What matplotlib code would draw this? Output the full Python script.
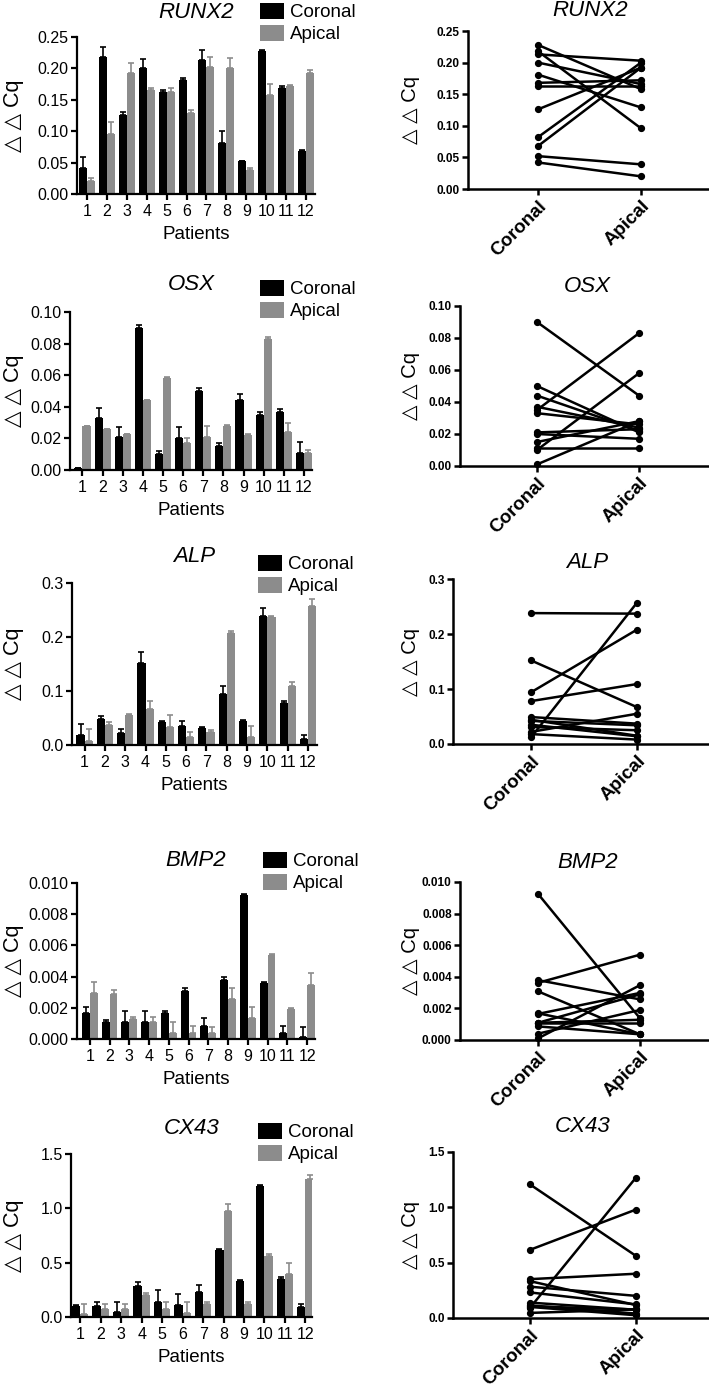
import matplotlib
matplotlib.use("Agg")
import matplotlib.pyplot as plt
import numpy as np
from matplotlib.ticker import FormatStrFormatter

plt.rcParams['font.family'] = ['Liberation Sans', 'DejaVu Sans']

# ---------------- data ----------------
genes = ["RUNX2", "OSX", "ALP", "BMP2", "CX43"]
patients = list(range(1, 13))
groups = ["Coronal", "Apical"]

runx2_cor = [0.042, 0.218, 0.126, 0.200, 0.163, 0.181, 0.213, 0.082, 0.052, 0.228, 0.168, 0.068]
runx2_cor_err = [0.017, 0.016, 0.005, 0.015, 0.003, 0.003, 0.017, 0.018, 0.001, 0.002, 0.004, 0.002]
runx2_api = [0.020, 0.096, 0.192, 0.166, 0.163, 0.129, 0.203, 0.200, 0.039, 0.158, 0.172, 0.192]
runx2_api_err = [0.005, 0.018, 0.017, 0.003, 0.006, 0.004, 0.015, 0.017, 0.003, 0.017, 0.002, 0.005]

osx_cor = [0.001, 0.033, 0.021, 0.090, 0.010, 0.020, 0.050, 0.015, 0.044, 0.035, 0.037, 0.011]
osx_cor_err = [0.0, 0.006, 0.006, 0.002, 0.002, 0.007, 0.002, 0.002, 0.004, 0.0015, 0.0015, 0.007]
osx_api = [0.028, 0.026, 0.023, 0.044, 0.058, 0.017, 0.021, 0.028, 0.022, 0.083, 0.024, 0.011]
osx_api_err = [0.0, 0.0, 0.0, 0.0, 0.001, 0.003, 0.007, 0.0005, 0.001, 0.001, 0.006, 0.0015]

alp_cor = [0.018, 0.049, 0.022, 0.152, 0.042, 0.035, 0.031, 0.094, 0.044, 0.238, 0.078, 0.012]
alp_cor_err = [0.021, 0.005, 0.007, 0.020, 0.002, 0.009, 0.003, 0.016, 0.003, 0.015, 0.003, 0.007]
alp_api = [0.008, 0.037, 0.055, 0.067, 0.034, 0.014, 0.025, 0.208, 0.015, 0.237, 0.109, 0.257]
alp_api_err = [0.021, 0.006, 0.003, 0.015, 0.021, 0.011, 0.003, 0.003, 0.021, 0.002, 0.007, 0.014]

bmp2_cor = [0.00165, 0.00109, 0.00109, 0.00109, 0.00169, 0.00308, 0.00086, 0.00379, 0.00925, 0.00362, 0.0004, 0.0001]
bmp2_cor_err = [0.0004, 0.00013, 0.0007, 0.0007, 0.0001, 0.00017, 0.00047, 0.00021, 0.00005, 0.00004, 0.00044, 0.0007]
bmp2_api = [0.00298, 0.00289, 0.00128, 0.00109, 0.00036, 0.00036, 0.00036, 0.00257, 0.00137, 0.0054, 0.0019, 0.00347]
bmp2_api_err = [0.0007, 0.00026, 0.0001, 0.00034, 0.00075, 0.00048, 0.00043, 0.00068, 0.0007, 0.00006, 0.0001, 0.00075]

cx43_cor = [0.100, 0.105, 0.046, 0.283, 0.139, 0.114, 0.231, 0.616, 0.333, 1.207, 0.351, 0.092]
cx43_cor_err = [0.014, 0.034, 0.090, 0.037, 0.110, 0.100, 0.062, 0.012, 0.012, 0.010, 0.020, 0.030]
cx43_api = [0.025, 0.077, 0.077, 0.200, 0.074, 0.040, 0.123, 0.980, 0.117, 0.561, 0.400, 1.269]
cx43_api_err = [0.092, 0.040, 0.040, 0.022, 0.061, 0.095, 0.012, 0.058, 0.018, 0.015, 0.093, 0.034]

ymax = [0.25, 0.10, 0.3, 0.010, 1.5]
ystep = [0.05, 0.02, 0.1, 0.002, 0.5]
yfmt = ['%.2f', '%.2f', '%.1f', '%.3f', '%.1f']

coronal_vals = [runx2_cor, osx_cor, alp_cor, bmp2_cor, cx43_cor]
coronal_errs = [runx2_cor_err, osx_cor_err, alp_cor_err, bmp2_cor_err, cx43_cor_err]
apical_vals = [runx2_api, osx_api, alp_api, bmp2_api, cx43_api]
apical_errs = [runx2_api_err, osx_api_err, alp_api_err, bmp2_api_err, cx43_api_err]

# ---------------- layout (pixels) ----------------
W, H = 709, 1391
BLACK = '#000000'
GRAY = '#8c8c8c'
YLAB = '\u25b3 \u25b3 Cq'

left_boxes = [(77, 37, 315, 194), (70, 312, 312, 470), (72, 583, 317, 745),
              (77, 883, 315, 1039), (71, 1154, 312, 1317)]
left_xlim = [(0.5, 12.45), (0.38, 12.4), (0.38, 12.44), (0.35, 12.4), (0.55, 12.32)]
left_title_y = [13, 285, 557, 860, 1129]
legend_pos = [(260, 3), (260, 280), (258, 555), (263, 852), (258, 1123)]

right_boxes = [(468, 31, 189, 538, 641), (460, 306, 466, 537, 639), (453, 579, 744, 531, 637),
               (460, 882, 1040, 538, 640), (453, 1152, 1318, 530, 636)]
right_title = [(590, 10), (587, 287), (587, 562), (588, 862), (583, 1127)]

fig = plt.figure(figsize=(W / 100, H / 100), dpi=100)


def add_ax(l, t, r, b):
    return fig.add_axes([l / W, 1 - b / H, (r - l) / W, (b - t) / H])


def style_axes(ax, lw=1.6):
    for s in ['top', 'right']:
        ax.spines[s].set_visible(False)
    for s in ['left', 'bottom']:
        ax.spines[s].set_linewidth(lw)
    ax.tick_params(width=lw, length=4, direction='out', colors='black')


x = np.array(patients, dtype=float)
bw = 0.4

for i, g in enumerate(genes):
    # ---- bar chart ----
    l, t, r, b = left_boxes[i]
    ax = add_ax(l, t, r, b)
    style_axes(ax)
    cv, ce = np.array(coronal_vals[i]), np.array(coronal_errs[i])
    av, ae = np.array(apical_vals[i]), np.array(apical_errs[i])
    b1 = ax.bar(x - bw / 2, cv, bw, color=BLACK, label=groups[0], zorder=2)
    b2 = ax.bar(x + bw / 2, av, bw, color=GRAY, label=groups[1], zorder=2)
    ax.errorbar(x - bw / 2, cv, yerr=[np.zeros_like(ce), ce], fmt='none', ecolor=BLACK,
                elinewidth=1.2, capsize=2.3, capthick=1.2, zorder=3)
    ax.errorbar(x + bw / 2, av, yerr=[np.zeros_like(ae), ae], fmt='none', ecolor=GRAY,
                elinewidth=1.2, capsize=2.3, capthick=1.2, zorder=3)
    ax.set_xlim(*left_xlim[i])
    ax.set_ylim(0, ymax[i])
    ax.set_yticks(np.arange(0, ymax[i] + ystep[i] / 2, ystep[i]))
    ax.yaxis.set_major_formatter(FormatStrFormatter(yfmt[i]))
    ax.set_xticks(x)
    ax.set_xticklabels([str(p) for p in patients])
    ax.tick_params(axis='y', labelsize=11.5, pad=2)
    ax.tick_params(axis='x', labelsize=11.5, pad=3)
    ax.set_xlabel('Patients', fontsize=13.5, labelpad=5)
    fig.text(14 / W, 1 - ((t + b) / 2) / H, YLAB, rotation=90, fontsize=15.5,
             ha='center', va='center')
    fig.text(((l + r) / 2) / W, 1 - left_title_y[i] / H, g, fontsize=16, style='italic',
             ha='center', va='center')
    lx, ly = legend_pos[i]
    ax.legend(handles=[b1, b2], loc='upper left', bbox_to_anchor=(lx / W, 1 - ly / H),
              bbox_transform=fig.transFigure, frameon=False, fontsize=13.5,
              borderpad=0, borderaxespad=0, handlelength=1.3, handleheight=0.9,
              handletextpad=0.3, labelspacing=0.2)

    # ---- paired plot ----
    rl, rt, rb, cx, axp = right_boxes[i]
    ax2 = add_ax(rl, rt, W, rb)
    style_axes(ax2, lw=1.8)
    unit = axp - cx
    ax2.set_xlim((rl - cx) / unit, (W - cx) / unit)
    ax2.set_ylim(0, ymax[i])
    ax2.set_yticks(np.arange(0, ymax[i] + ystep[i] / 2, ystep[i]))
    ax2.yaxis.set_major_formatter(FormatStrFormatter(yfmt[i]))
    for c, a in zip(coronal_vals[i], apical_vals[i]):
        ax2.plot([0, 1], [c, a], color='black', lw=1.8, marker='o', ms=4.2,
                 clip_on=False, zorder=3)
    ax2.set_xticks([0, 1])
    ax2.set_xticklabels(groups, rotation=45, ha='right', rotation_mode='anchor',
                        fontsize=13.5, fontweight='bold')
    for lab in ax2.get_yticklabels():
        lab.set_fontweight('bold')
    ax2.tick_params(axis='y', labelsize=8.5, pad=2)
    ax2.tick_params(axis='x', pad=2)
    fig.text(410 / W, 1 - ((rt + rb) / 2) / H, YLAB, rotation=90, fontsize=14.5,
             ha='center', va='center')
    tx, ty = right_title[i]
    fig.text(tx / W, 1 - ty / H, g, fontsize=16, style='italic', ha='center', va='center')

fig.savefig('out.png', dpi=100)
